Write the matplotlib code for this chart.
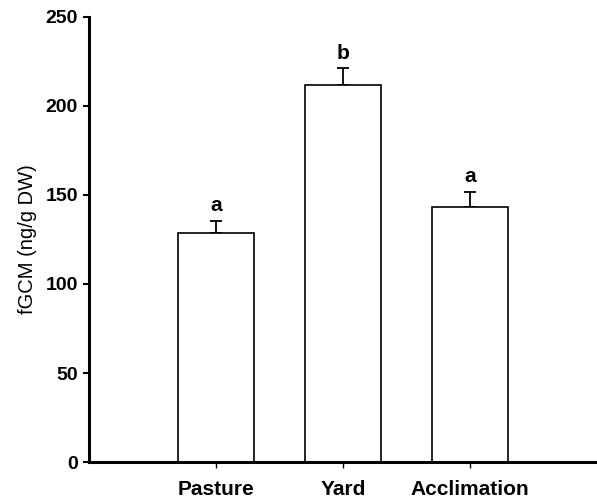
import matplotlib
matplotlib.use("Agg")
import matplotlib.pyplot as plt
import numpy as np

plt.rcParams['font.family'] = ['Liberation Sans', 'DejaVu Sans']
plt.rcParams['font.weight'] = 'bold'

categories = ["Pasture", "Yard", "Acclimation"]
means = [128.8, 212.0, 143.4]
sems = [6.6, 9.2, 8.5]
letters = ["a", "b", "a"]
yticks = [0, 50, 100, 150, 200, 250]

fig = plt.figure(figsize=(5.97, 4.99), dpi=100)
ax = fig.add_axes([0.149, 0.0741, 0.851, 0.892])

x = np.arange(len(categories))
ax.bar(x, means, width=0.6, color="white", edgecolor="black", linewidth=1.2, zorder=2)
ax.errorbar(x, means, yerr=[np.zeros(len(sems)), sems], fmt="none",
            ecolor="black", elinewidth=1.3, capsize=4, capthick=1.3, zorder=1)

for xi, m, s, lab in zip(x, means, sems, letters):
    ax.annotate(lab, (xi, m + s), xytext=(0, 4), textcoords="offset points",
                ha="center", va="bottom", fontsize=15, fontweight="bold")

ax.set_xlim(-1, 3)
ax.set_ylim(0, 250)
ax.set_yticks(yticks)
ax.set_xticks(x)
ax.set_xticklabels(categories)
ax.set_ylabel("fGCM (ng/g DW)", fontsize=14.5, fontweight="normal", labelpad=6)

for side in ("top", "right"):
    ax.spines[side].set_visible(False)
for side in ("left", "bottom"):
    ax.spines[side].set_linewidth(2.2)

ax.tick_params(axis="y", direction="out", length=4, width=1.5, labelsize=14, pad=4)
ax.tick_params(axis="x", direction="out", length=4, width=1.0, labelsize=15, pad=9)

fig.savefig("out.png", dpi=100, facecolor="white")
